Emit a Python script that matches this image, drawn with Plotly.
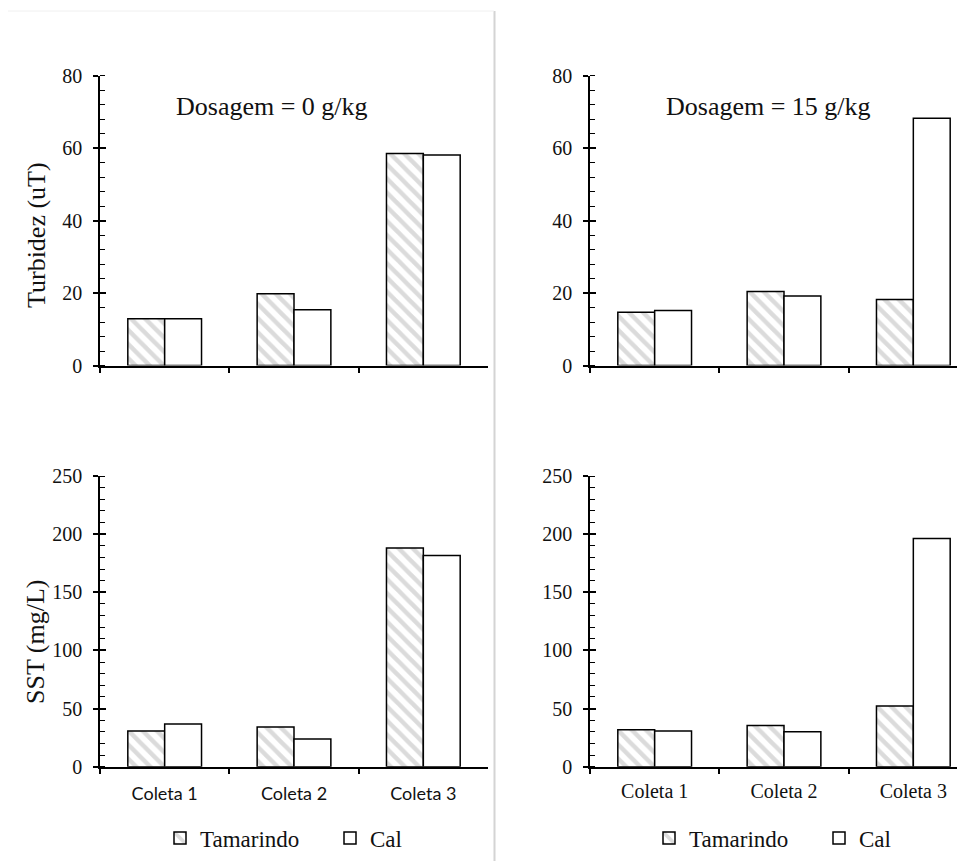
import plotly.graph_objects as go

# ---------------- data ----------------
categories = ["Coleta 1", "Coleta 2", "Coleta 3"]
series_names = ["Tamarindo", "Cal"]

turb_0_tam = [12.9, 19.8, 58.5]
turb_0_cal = [12.9, 15.4, 58.1]
turb_15_tam = [14.7, 20.4, 18.2]
turb_15_cal = [15.2, 19.2, 68.2]

sst_0_tam = [30.7, 34.1, 188.0]
sst_0_cal = [36.7, 23.8, 181.7]
sst_15_tam = [31.8, 35.5, 52.2]
sst_15_cal = [30.7, 30.1, 196.3]

panel_titles = ["Dosagem = 0 g/kg", "Dosagem = 15 g/kg"]
y_titles = ["Turbidez (uT)", "SST (mg/L)"]

# ---------------- styles ----------------
WIN_W, WIN_H = 965, 861
OFF = 8  # default page body margin
W, H = WIN_W - OFF, WIN_H - OFF
SERIF = "Liberation Serif, Times New Roman, serif"
SANS = "Lato, Liberation Sans, sans-serif"
LINE_W = 1.5

def px_x(p):
    return (p - OFF) / W

def px_y(p):
    return 1 - (p - OFF) / H

left_dom = [px_x(100), px_x(488)]
right_dom = [px_x(590), 1.0]
cat_px = (488 - 100) / 3.0
right_end = -0.5 + (WIN_W - 590) / cat_px
top_dom = [px_y(365.5), px_y(75.5)]
bot_dom = [px_y(766.7), px_y(476)]

fig = go.Figure()

tam_style = dict(
    color="white",
    line=dict(color="black", width=LINE_W),
    pattern=dict(shape="\\", fgcolor="#B8B8B8", bgcolor="white",
                 size=10, solidity=0.45, fillmode="overlay"),
)
cal_style = dict(color="white", line=dict(color="black", width=LINE_W))

panels = [
    # (xaxis, yaxis, tam, cal, legend, showlegend)
    ("x", "y", turb_0_tam, turb_0_cal, "legend", True),
    ("x2", "y2", turb_15_tam, turb_15_cal, "legend2", True),
    ("x3", "y3", sst_0_tam, sst_0_cal, "legend", False),
    ("x4", "y4", sst_15_tam, sst_15_cal, "legend2", False),
]

for xa, ya, tam, cal, leg, sl in panels:
    fig.add_trace(go.Bar(x=categories, y=tam, name=series_names[0],
                         marker=tam_style, xaxis=xa, yaxis=ya,
                         legend=leg, showlegend=sl, legendgroup=leg + "t"))
    fig.add_trace(go.Bar(x=categories, y=cal, name=series_names[1],
                         marker=cal_style, xaxis=xa, yaxis=ya,
                         legend=leg, showlegend=sl, legendgroup=leg + "c"))

# overlay axes to draw inner half of major ticks (crossing ticks)
overlay_map = {"y5": ("x", "y", 80, 20), "y6": ("x2", "y2", 80, 20),
               "y7": ("x3", "y3", 250, 50), "y8": ("x4", "y4", 250, 50)}
for ov, (xa, ya, top, dt) in overlay_map.items():
    fig.add_trace(go.Scatter(x=[], y=[], xaxis=xa, yaxis=ov,
                             showlegend=False, hoverinfo="skip"))

def xaxis_cfg(domain, anchor, rng, show_labels, font, standoff):
    return dict(
        domain=domain, anchor=anchor, type="category", range=rng,
        showline=True, linecolor="black", linewidth=LINE_W,
        ticks="outside", ticklen=6, tickwidth=LINE_W, tickcolor="black",
        tickson="boundaries", showgrid=False, zeroline=False,
        showticklabels=show_labels, tickfont=font, ticklabelstandoff=standoff,
        fixedrange=True, automargin=False,
    )

def yaxis_cfg(domain, anchor, top, dt, mdt):
    return dict(
        domain=domain, anchor=anchor, range=[0, top], dtick=dt, tick0=0,
        showline=True, linecolor="black", linewidth=LINE_W,
        ticks="outside", ticklen=5, tickwidth=LINE_W, tickcolor="black",
        minor=dict(ticks="inside", ticklen=5, tickwidth=1.2,
                   tickcolor="black", dtick=mdt, tick0=0, showgrid=False),
        showgrid=False, zeroline=False,
        tickfont=dict(family=SERIF, size=20, color="#111"),
        ticklabelstandoff=7, fixedrange=True, automargin=False,
    )

fig.update_layout(
    xaxis=xaxis_cfg(left_dom, "y", [-0.5, 2.5], False, None, 6),
    xaxis2=xaxis_cfg(right_dom, "y2", [-0.5, right_end], False, None, 6),
    xaxis3=xaxis_cfg(left_dom, "y3", [-0.5, 2.5], True,
                     dict(family=SANS, size=18, color="#111"), 10),
    xaxis4=xaxis_cfg(right_dom, "y4", [-0.5, right_end], True,
                     dict(family=SERIF, size=20, color="#111"), 6),
    yaxis=yaxis_cfg(top_dom, "x", 80, 20, 4),
    yaxis2=yaxis_cfg(top_dom, "x2", 80, 20, 4),
    yaxis3=yaxis_cfg(bot_dom, "x3", 250, 50, 10),
    yaxis4=yaxis_cfg(bot_dom, "x4", 250, 50, 10),
)

for ov, (xa, ya, top, dt) in overlay_map.items():
    idx = ov[1:]
    fig.layout["yaxis" + idx] = dict(
        overlaying=ya, anchor=xa, range=[0, top], dtick=dt, tick0=0,
        showline=False, showgrid=False, zeroline=False,
        showticklabels=False, ticks="inside", ticklen=6,
        tickwidth=LINE_W, tickcolor="black", fixedrange=True,
    )

ann_common = dict(xref="paper", yref="paper", showarrow=False,
                  xanchor="center", yanchor="middle")
# panel titles
fig.add_annotation(text=panel_titles[0], x=px_x(272), y=px_y(106),
                   font=dict(family=SERIF, size=26, color="#111"), **ann_common)
fig.add_annotation(text=panel_titles[1], x=px_x(768), y=px_y(106),
                   font=dict(family=SERIF, size=26, color="#111"), **ann_common)
# y titles
fig.add_annotation(text=y_titles[0], x=px_x(37), y=px_y(235), textangle=-90,
                   font=dict(family=SERIF, size=26, color="#111"), **ann_common)
fig.add_annotation(text=y_titles[1], x=px_x(35), y=px_y(642), textangle=-90,
                   font=dict(family=SERIF, size=26, color="#111"), **ann_common)

# separators from the composed image
fig.add_shape(type="line", xref="paper", yref="paper",
              x0=px_x(494.5), x1=px_x(494.5), y0=0, y1=px_y(11),
              line=dict(color="#D4D4D4", width=2))
fig.add_shape(type="line", xref="paper", yref="paper",
              x0=px_x(8), x1=px_x(494), y0=px_y(11), y1=px_y(11),
              line=dict(color="#F0F0F0", width=1))

legend_common = dict(
    orientation="h", yanchor="middle", xanchor="left",
    font=dict(family=SERIF, size=23, color="#111"),
    bgcolor="rgba(0,0,0,0)", borderwidth=0,
    entrywidth=125, entrywidthmode="pixels", traceorder="normal",
)
fig.update_layout(
    legend=dict(x=px_x(160), y=px_y(838), **legend_common),
    legend2=dict(x=px_x(649), y=px_y(838), **legend_common),
)

fig.update_layout(
    width=W, height=H, barmode="group", bargap=0.43, bargroupgap=0,
    margin=dict(l=0, r=0, t=0, b=0, pad=0, autoexpand=False),
    plot_bgcolor="white", paper_bgcolor="white",
)

fig.write_html("out.html")
